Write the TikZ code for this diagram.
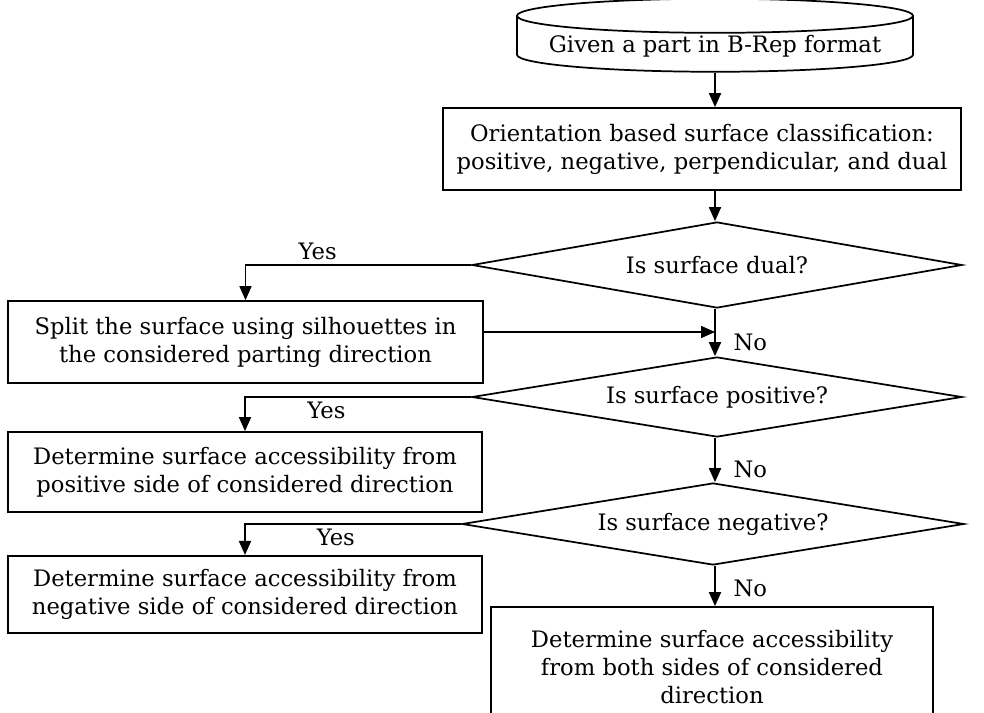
\documentclass[tikz,border=0pt]{standalone}
\usepackage{fontspec}
\setmainfont{DejaVu Serif}
\usepackage{tikz}
\usetikzlibrary{shapes,               % cylindre, losanges
           arrows.meta,
           positioning,
           calc}

\begin{document}
\begin{tikzpicture}[x=0.75pt, y=-0.75pt, line width=1.3pt,
  txt/.style={font=\fontsize{17}{21}\selectfont},
  procbox/.style={txt, draw, align=center, inner sep=0pt},
  decision/.style={txt, draw, diamond, aspect=6, inner sep=0pt},
  fleche/.style={-{Triangle[length=10.5pt,width=9pt]}}]
\useasboundingbox (0,0) rectangle (984,713);
% entree
\node[txt, cylinder, draw, shape border rotate=90, aspect=0.1, inner ysep=1pt, minimum width=297pt, minimum height=51pt](part)at(715,46){Given a part in B-Rep format};
\node[procbox, minimum width=388.5pt, minimum height=61.5pt](classif)at(702,149){Orientation based surface classification:\\positive, negative, perpendicular, and dual};
% tests
\node[decision, minimum width=367.5pt, minimum height=64.5pt](dual)at(717,265){Is surface dual?};
\node[decision, minimum width=367.5pt, minimum height=60pt](posit)at(717,397){Is surface positive?};
\node[decision, minimum width=376.5pt, minimum height=61.5pt](negat)at(713,524){Is surface negative?};
% actions
\node[procbox, minimum width=356pt, minimum height=61.5pt](split)at(245.5,342){Split the surface using silhouettes in\\the considered parting direction};
\node[procbox, minimum width=355.5pt, minimum height=60pt](accpos)at(245,472){Determine surface accessibility from\\positive side of considered direction};
\node[procbox, minimum width=355.5pt, minimum height=58pt](accneg)at(245,594.5){Determine surface accessibility from\\negative side of considered direction};
\node[procbox, minimum width=331.5pt, minimum height=90pt](accboth)at(712,667){Determine surface accessibility\\from both sides of considered\\direction};
\coordinate(join)at(715,332);
% liaisons
\draw[fleche](part.south)--(part.south|-classif.north);
\draw[fleche](part.south|-classif.south)--(part.south|-dual.north);
\draw[fleche](dual.west)-|node[txt, above, pos=0.34]{Yes}(split.north);
\draw[fleche](split.east|-join)--(join);
\draw[fleche](join|-dual.south)--node[txt, right=10pt, pos=0.7]{No}(join|-posit.north);
\draw[fleche](posit.west)-|node[txt, below, pos=0.32]{Yes}(accpos.north);
\draw[fleche](join|-posit.south)--node[txt, right=10pt, pos=0.72]{No}(join|-negat.north);
\draw[fleche](negat.west)-|node[txt, below, pos=0.29]{Yes}(accneg.north);
\draw[fleche](join|-negat.south)--node[txt, right=10pt, pos=0.55]{No}(join|-accboth.north);
\end{tikzpicture}
\end{document}
